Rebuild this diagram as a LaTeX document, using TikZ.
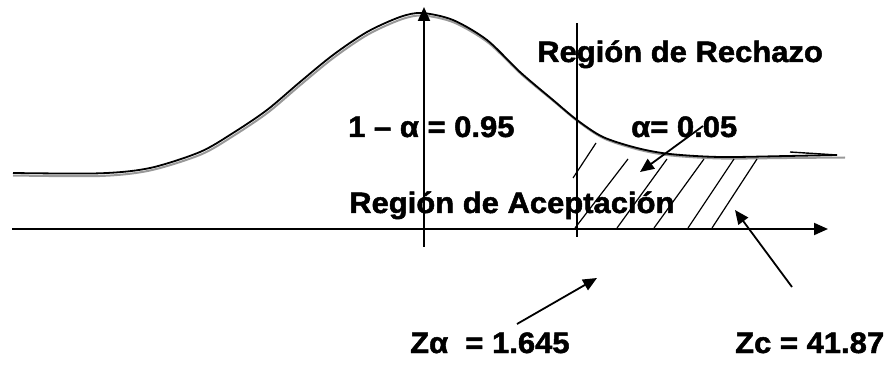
\documentclass[tikz,border=0pt]{standalone}
\usepackage{fontspec}
\setmainfont{Liberation Sans}
\newfontfamily\lblfont[FakeBold=1.6]{Liberation Sans Bold}
\usetikzlibrary{arrows.meta}
\begin{document}
\begin{tikzpicture}[x=1pt,y=-1pt,
  lbl/.style={font=\fontsize{29.5}{31}\lblfont, inner sep=0pt, anchor=base west, xscale=1.05},
  axis/.style={line width=1.9pt},
  tip/.style={-{Triangle[length=14pt,width=12pt]}},
  hatch/.style={line width=1.2pt},
  curveblk/.style={line width=1.8pt, black},
  curvegry/.style={line width=2pt, black!40}]
\useasboundingbox (0,0) rectangle (892,374);
% gray shadow curve
\draw[curvegry] plot[smooth, tension=0.5] coordinates {(13,175.5) (100,176) (150,170.5) (201,154.5) (234,135.5) (268,112.5) (301,84.5) (334,57.5) (368,34.5) (401,19.5) (423,15.5) (454,22.5) (488,42.5) (521,74) (554,101.5) (578,121.5) (604,138.5) (638,149.5) (671,155.5) (721,158.5) (787,158) (845,157.5)};
% black curve
\draw[curveblk] plot[smooth, tension=0.5] coordinates {(13,173) (100,173.3) (150,168) (200,152) (233,133) (267,110) (300,82) (333,55) (367,32) (400,17) (422,13) (453,20) (487,40) (520,72) (553,100) (577,120) (603,137) (637,148) (670,154) (720,157) (787,156) (837,155)};
\coordinate (barb) at (790,152);
\coordinate (curveend) at (837,155);
\draw[line width=1.4pt] (barb) -- (curveend);
% axes
\coordinate (xl) at (12,229);
\coordinate (xr) at (828,229);
\draw[axis,tip] (xl) -- (xr);
\coordinate (yb) at (424,247);
\coordinate (yt) at (424,7);
\draw[axis,tip] (yb) -- (yt);
% critical line
\coordinate (cb) at (577,237);
\coordinate (ct) at (577,23);
\draw[line width=1.4pt] (cb) -- (ct);
% hatching
\draw[hatch] (573,178) -- (596,143);
\draw[hatch] (575,228) -- (628,159);
\draw[hatch] (617,228) -- (667,159);
\draw[hatch] (654,228) -- (704,159);
\draw[hatch] (688,228) -- (734,159);
\draw[hatch] (712,228) -- (757,159);
% labels
\node[lbl] (rech) at (537,62) {Región de Rechazo};
\node[lbl] (uno) at (348,137) {1 – α = 0.95};
\node[lbl] (alfa) at (631,137) {α= 0.05};
\node[lbl] (acep) at (349,213) {Región de Aceptación};
\node[lbl] (za) at (410,353) {Zα\ \ = 1.645};
\node[lbl] (zc) at (735,353) {Zc = 41.87};
% pointer arrows
\coordinate (alfatail) at (703,126);
\coordinate (alfatip) at (640,172);
\draw[line width=1.8pt,tip] (alfatail) -- (alfatip);
\coordinate (zatail) at (517,324);
\coordinate (zatip) at (597,278);
\draw[line width=1.8pt,tip] (zatail) -- (zatip);
\coordinate (zctail) at (792,287);
\coordinate (zctip) at (735,210);
\draw[line width=1.8pt,tip] (zctail) -- (zctip);
\end{tikzpicture}
\end{document}
